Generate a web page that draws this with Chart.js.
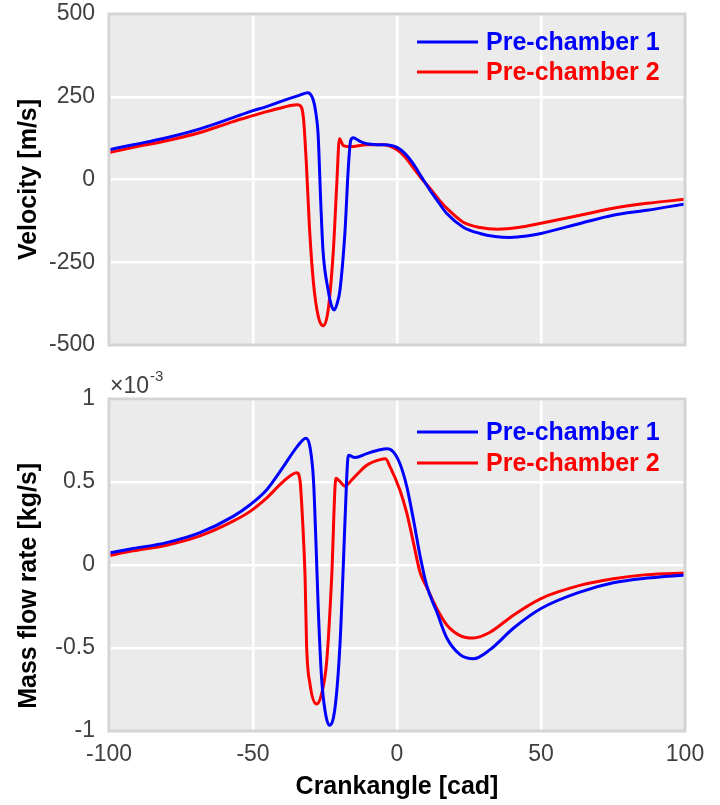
<!DOCTYPE html>
<html>
<head>
<meta charset="utf-8">
<script src="https://cdn.jsdelivr.net/npm/chart.js@4"></script>
<style>
html, body { margin: 0; padding: 0; background: #fff; }
#wrap { position: relative; width: 720px; height: 805px; }
#velBox { position: absolute; left: 0; top: 0; width: 720px; height: 360px; }
#mfBox { position: absolute; left: 0; top: 370px; width: 720px; height: 435px; }
</style>
</head>
<body>
<div id="wrap">
  <div id="velBox"><canvas id="velChart"></canvas></div>
  <div id="mfBox"><canvas id="mfChart"></canvas></div>
</div>
<script>
// Series names
const seriesNames = ['Pre-chamber 1', 'Pre-chamber 2'];

// Velocity [m/s], pre-chamber 1
const velCad1 = [-100, -91.6, -80, -68.4, -56.9, -50, -45.3, -40, -33.7, -31, -29, -28, -27.4, -26.5, -25.7, -23.9, -22.8, -21.8, -20.8, -19.8, -18.1, -16.9, -16.1, -15.2, -13, -10.5, -6, -3, 0, 2.8, 5.6, 8.5, 11.5, 14.5, 17.3, 23, 28.8, 34, 39.2, 45, 50, 63.5, 75, 86.8, 100];
const vel1 = [90, 105, 126, 153, 187, 208, 220, 237, 255, 262, 238, 190, 138, -63, -214, -334, -380, -394, -375, -334, -163, 36, 117, 126, 116, 108, 105, 104, 97, 78, 48, 8, -33, -70, -103, -144, -163, -172, -175, -171, -163, -133, -108, -93, -74];

// Velocity [m/s], pre-chamber 2
const velCad2 = [-100, -91.6, -80, -68.4, -56.9, -50, -45.3, -40, -34.8, -33.8, -32.5, -31.4, -30.4, -29, -27.3, -25.6, -23.9, -22.1, -20.9, -20, -18.6, -16.3, -10.5, -4.7, 0, 2.8, 5.6, 8.5, 11.5, 14.5, 17.3, 23, 28.8, 35, 42, 50, 63.5, 75, 86.8, 100];
const vel2 = [81, 97, 117, 142, 175, 193, 205, 217, 226, 224, 187, 36, -144, -313, -415, -442, -394, -214, -12, 123, 102, 99, 105, 105, 90, 68, 36, 3, -27, -60, -87, -129, -145, -150, -145, -132, -108, -87, -72, -60];

// Mass flow rate [1e-3 kg/s], pre-chamber 1
const mfCad1 = [-100, -91.6, -80, -68.4, -56.9, -51, -45.3, -39.5, -34.8, -31.6, -30.2, -29, -28.1, -27.3, -26.2, -25, -23.5, -21.5, -19.8, -18.6, -17.5, -16.9, -14.6, -10.5, -5.9, -3.5, -1.4, 1, 3.4, 5.7, 8, 10.3, 13.8, 17.3, 21.9, 26.5, 32.3, 40.4, 50, 63.5, 75.1, 86.7, 100];
const mf1 = [0.072, 0.099, 0.135, 0.195, 0.293, 0.363, 0.452, 0.591, 0.71, 0.764, 0.71, 0.512, 0.115, -0.282, -0.679, -0.877, -0.966, -0.857, -0.48, 0.016, 0.512, 0.661, 0.647, 0.671, 0.694, 0.7, 0.684, 0.611, 0.472, 0.274, 0.056, -0.123, -0.282, -0.44, -0.54, -0.565, -0.51, -0.381, -0.262, -0.163, -0.107, -0.079, -0.06];

// Mass flow rate [1e-3 kg/s], pre-chamber 2
const mfCad2 = [-100, -91.6, -80, -68.4, -56.9, -51, -45.3, -39.5, -34.8, -33.7, -32.8, -31.9, -31.4, -30.2, -27.9, -26.2, -24.4, -22.7, -21.2, -19.8, -18.1, -15.2, -10.5, -5.9, -4, -2.4, 1, 3.4, 5.7, 8, 10.3, 13.8, 17.3, 21.9, 26.5, 32.3, 40.4, 50, 63.5, 75.1, 86.7, 100];
const mf2 = [0.057, 0.085, 0.119, 0.175, 0.264, 0.323, 0.403, 0.502, 0.556, 0.512, 0.274, -0.083, -0.48, -0.718, -0.837, -0.778, -0.579, -0.083, 0.522, 0.502, 0.476, 0.522, 0.601, 0.635, 0.64, 0.591, 0.452, 0.313, 0.135, -0.044, -0.133, -0.262, -0.361, -0.425, -0.44, -0.405, -0.302, -0.202, -0.123, -0.083, -0.058, -0.048];

const seriesColors = ['#0000ff', '#ff0000'];
const fontFamily = '"Liberation Sans", Arial, Helvetica, sans-serif';
Chart.defaults.font.family = fontFamily;

function toPoints(xs, ys) {
    return xs.map((x, i) => ({ x: x, y: ys[i] }));
}

// grey plot background, light border, legend and exponent label
const framePlugin = {
    id: 'frame',
    beforeDraw(chart) {
        const a = chart.chartArea;
        const ctx = chart.ctx;
        ctx.save();
        ctx.fillStyle = '#ebebeb';
        ctx.fillRect(a.left, a.top, a.right - a.left, a.bottom - a.top);
        ctx.restore();
    },
    afterDraw(chart, args, opts) {
        const a = chart.chartArea;
        const ctx = chart.ctx;
        ctx.save();
        ctx.strokeStyle = '#d4d4d4';
        ctx.lineWidth = 3;
        ctx.strokeRect(a.left, a.top, a.right - a.left, a.bottom - a.top);

        // legend
        ctx.font = 'bold 25px ' + fontFamily;
        ctx.textBaseline = 'middle';
        ctx.textAlign = 'left';
        chart.data.datasets.forEach((ds, i) => {
            const y = opts.legendY + i * opts.legendGap;
            ctx.strokeStyle = ds.borderColor;
            ctx.lineWidth = 3;
            ctx.beginPath();
            ctx.moveTo(a.right - 268, y);
            ctx.lineTo(a.right - 207, y);
            ctx.stroke();
            ctx.fillStyle = ds.borderColor;
            ctx.fillText(ds.label, a.right - 199, y + 1);
        });

        if (opts.exponent) {
            ctx.fillStyle = '#404040';
            ctx.textBaseline = 'alphabetic';
            ctx.font = '23px ' + fontFamily;
            ctx.fillText('\u00d710', a.left + 1, a.top - 6);
            const w = ctx.measureText('\u00d710').width;
            ctx.font = '15px ' + fontFamily;
            ctx.fillText('-3', a.left + 2 + w, a.top - 18);
        }
        ctx.restore();
    }
};

function makeChart(canvasId, sets, yOpts, showX, legendY, legendGap, exponent, padding) {
    const ctx = document.getElementById(canvasId).getContext('2d');
    return new Chart(ctx, {
        type: 'line',
        data: {
            datasets: sets.map((s, i) => ({
                label: seriesNames[i],
                data: s,
                borderColor: seriesColors[i],
                backgroundColor: seriesColors[i],
                borderWidth: 3,
                pointRadius: 0,
                cubicInterpolationMode: 'monotone',
                fill: false
            }))
        },
        options: {
            responsive: true,
            maintainAspectRatio: false,
            animation: false,
            devicePixelRatio: 1,
            layout: { padding: padding },
            plugins: {
                legend: { display: false },
                tooltip: { enabled: false },
                frame: { legendY: legendY, legendGap: legendGap, exponent: exponent }
            },
            scales: {
                x: {
                    type: 'linear',
                    min: -100,
                    max: 100,
                    border: { display: false },
                    grid: { color: '#ffffff', lineWidth: 2.5, drawTicks: false },
                    ticks: {
                        display: showX,
                        stepSize: 50,
                        autoSkip: false,
                        maxRotation: 0,
                        padding: 10,
                        color: '#404040',
                        font: { size: 23 }
                    },
                    title: {
                        display: showX,
                        text: 'Crankangle [cad]',
                        color: '#000000',
                        font: { size: 25, weight: 'bold' },
                        padding: { top: 0, bottom: 3 }
                    },
                    afterFit: (scale) => { scale.height = showX ? 74 : 0; }
                },
                y: {
                    min: yOpts.min,
                    max: yOpts.max,
                    border: { display: false },
                    grid: { color: '#ffffff', lineWidth: 2.5, drawTicks: false },
                    ticks: {
                        stepSize: yOpts.step,
                        padding: 14,
                        color: '#404040',
                        font: { size: 23 },
                        callback: (v) => String(Math.round(v * 100) / 100)
                    },
                    title: {
                        display: true,
                        text: yOpts.title,
                        color: '#000000',
                        font: { size: 25, weight: 'bold' },
                        padding: { top: 14, bottom: 0 }
                    },
                    afterFit: (scale) => {
                        scale.width = 109;
                        scale.paddingTop = 0;
                        scale.paddingBottom = 0;
                    }
                }
            }
        },
        plugins: [framePlugin]
    });
}

window.onload = function() {
    makeChart('velChart',
        [toPoints(velCad1, vel1), toPoints(velCad2, vel2)],
        { min: -500, max: 500, step: 250, title: 'Velocity [m/s]' },
        false, 42, 30, false,
        { top: 14, right: 35, bottom: 15, left: 0 });

    makeChart('mfChart',
        [toPoints(mfCad1, mf1), toPoints(mfCad2, mf2)],
        { min: -1, max: 1, step: 0.5, title: 'Mass flow rate [kg/s]      ' },
        true, 62, 31, true,
        { top: 29, right: 35, bottom: 0, left: 0 });
};
</script>
</body>
</html>
